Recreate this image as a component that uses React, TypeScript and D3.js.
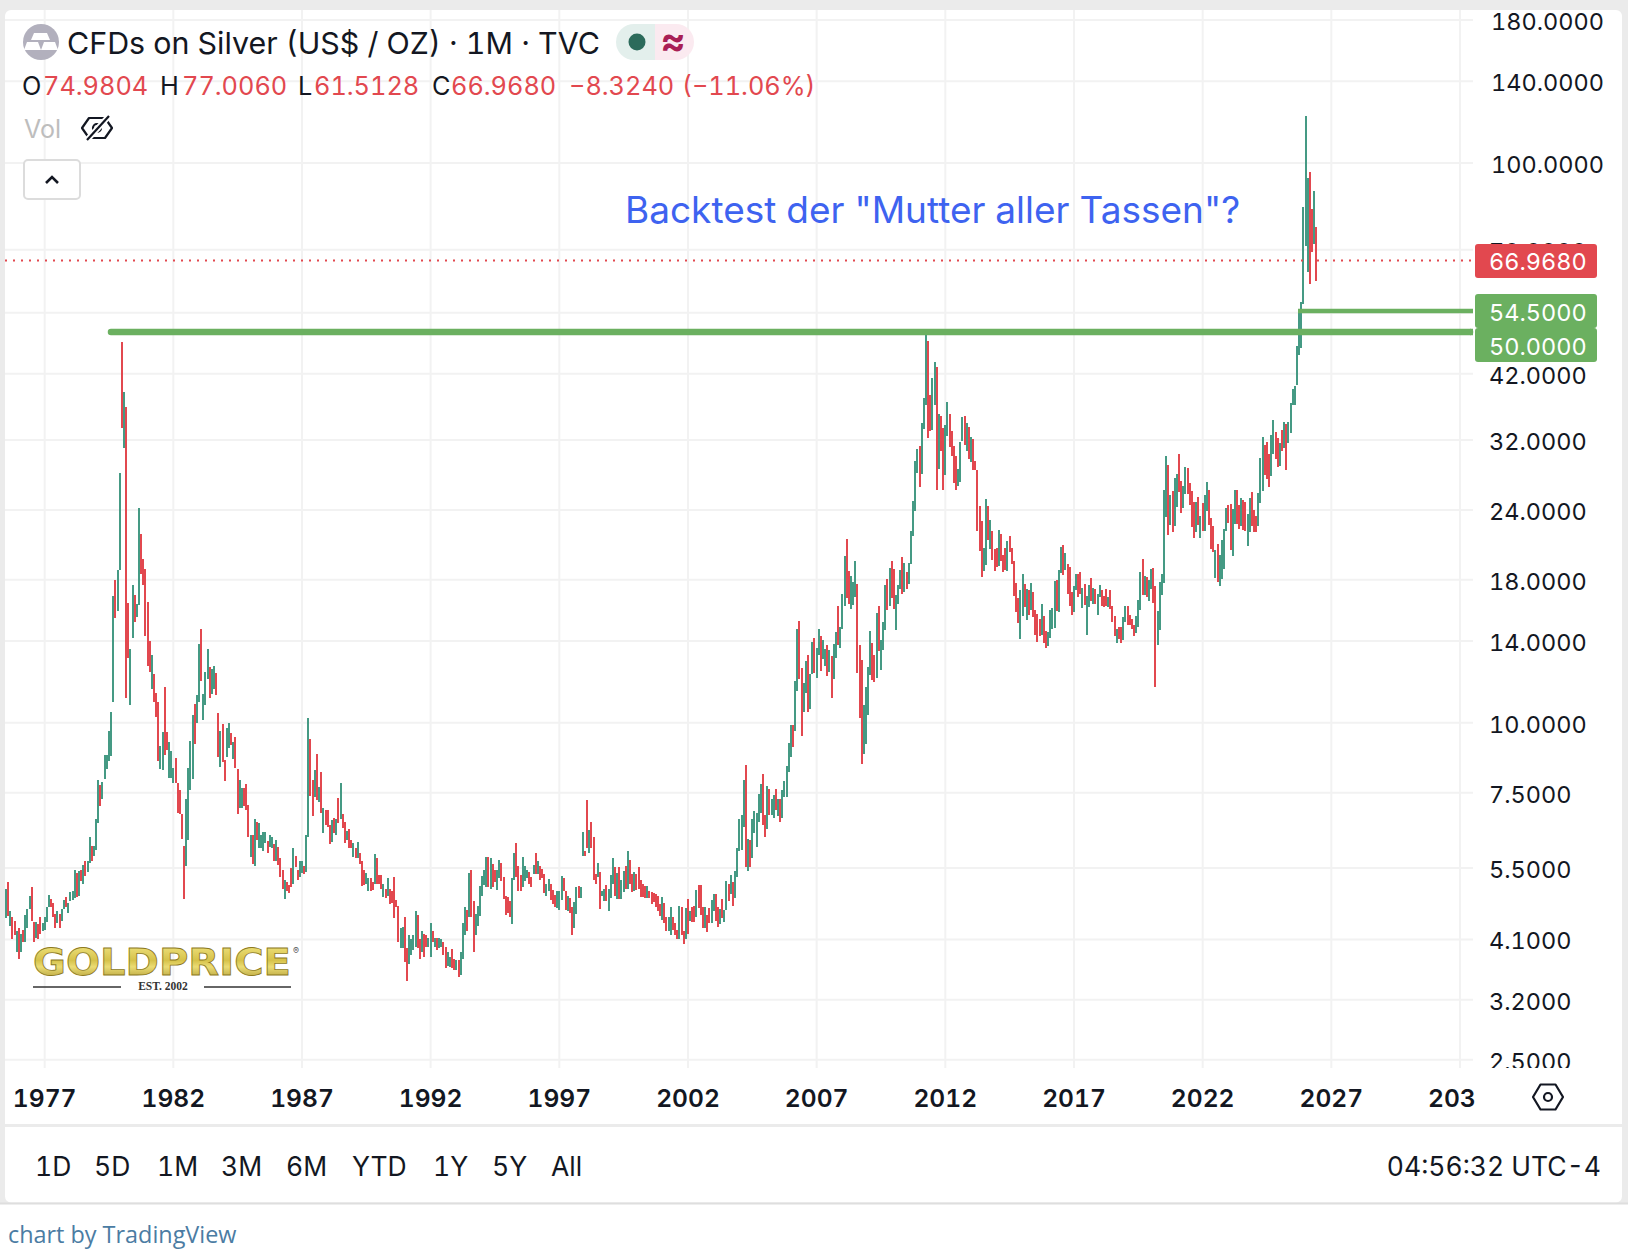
import * as d3 from 'd3';

const priceTicks = [180, 140, 100, 70, 42, 32, 24, 18, 14, 10, 7.5, 5.5, 4.1, 3.2, 2.5];
const gridOnlyPrices = [54];
const yearTicks = [1977, 1982, 1987, 1992, 1997, 2002, 2007, 2012, 2017, 2022, 2027, 2032];
const rangeButtons = ['1D', '5D', '1M', '3M', '6M', 'YTD', '1Y', '5Y', 'All'];
const rangeButtonX = [35, 94, 157, 221, 286, 352, 433, 492, 551];

const lastPrice = 66.968;
const resistanceUpper = 54.5;
const resistanceLower = 50;

// monthly bars, first one is 1975-07, one row per calendar year
const barHighs = [
  5.05, 5.19, 4.6, 4.49, 4.43, 4.25,
  4.3, 4.2, 4.27, 4.54, 4.64, 4.91, 5.08, 4.4, 4.4, 4.36, 4.5, 4.38,
  4.49, 4.69, 4.93, 4.85, 4.77, 4.56, 4.6, 4.56, 4.64, 4.83, 4.89, 4.77,
  4.99, 5.01, 5.45, 5.38, 5.43, 5.45, 5.58, 5.65, 5.65, 6.26, 6.03, 6.03,
  6.72, 7.89, 7.73, 7.83, 8.75, 8.75, 9.66, 10.46, 16.83, 18.0, 18.75, 27.95,
  47.9, 39.0, 36.6, 16.35, 13.55, 17.6, 16.9, 16.3, 24.2, 21.75, 19.6, 18.85,
  16.4, 14.0, 13.2, 12.2, 11.3, 10.87, 9.08, 9.62, 11.6, 9.62, 9.22, 8.89,
  8.29, 8.64, 7.8, 7.57, 6.86, 6.03, 7.3, 8.29, 9.26, 10.33, 10.82, 11.2,
  13.8, 14.7, 11.27, 12.3, 13.55, 12.55, 12.45, 12.65, 12.25, 10.42, 9.66, 9.93,
  8.57, 9.78, 10.0, 9.58, 9.22, 9.42, 8.25, 7.89, 7.63, 7.63, 7.76, 7.12,
  6.31, 6.31, 6.72, 6.64, 6.61, 6.31, 6.37, 6.37, 6.14, 6.31, 6.26, 6.06,
  6.16, 6.0, 5.74, 5.45, 5.23, 5.19, 5.12, 5.49, 5.96, 5.79, 5.45, 5.65,
  5.65, 5.54, 6.29, 10.18, 9.34, 7.89, 8.22, 8.79, 7.66, 8.15, 7.03, 6.97,
  6.97, 6.56, 6.69, 6.77, 6.72, 7.33, 7.8, 6.86, 6.64, 6.4, 6.45, 6.18,
  6.09, 5.96, 6.11, 5.84, 5.65, 5.45, 5.38, 5.27, 5.27, 5.19, 5.82, 5.72,
  5.34, 5.34, 5.14, 5.05, 5.27, 5.05, 5.01, 5.29, 4.83, 4.71, 4.3, 4.32,
  4.49, 3.95, 4.18, 4.11, 4.17, 4.6, 4.54, 4.11, 4.25, 4.2, 4.17, 4.13,
  4.38, 4.25, 4.13, 4.13, 4.13, 4.11, 4.05, 3.98, 3.89, 3.81, 3.94, 3.79,
  3.76, 3.76, 3.89, 4.38, 4.69, 4.62, 5.38, 5.45, 4.81, 4.56, 4.71, 5.1,
  5.32, 5.45, 5.76, 5.76, 5.72, 5.6, 5.45, 5.45, 5.69, 5.62, 5.29, 4.91,
  4.89, 4.81, 5.27, 5.84, 6.09, 5.54, 5.34, 5.76, 5.54, 5.45, 5.4, 5.29,
  5.58, 5.84, 5.67, 5.54, 5.47, 5.36, 5.16, 5.25, 5.14, 5.03, 4.93, 5.01,
  5.01, 5.32, 5.27, 5.01, 4.91, 4.87, 4.68, 4.79, 5.08, 5.1, 5.08, 6.37,
  5.89, 7.27, 6.42, 6.64, 6.24, 5.36, 5.62, 5.4, 5.01, 5.05, 5.12, 5.05,
  5.34, 5.74, 5.52, 5.38, 5.52, 5.23, 5.43, 5.54, 5.91, 5.69, 5.36, 5.4,
  5.36, 5.52, 5.23, 5.16, 5.1, 5.1, 5.01, 4.99, 4.97, 4.95, 4.91, 4.75,
  4.89, 4.77, 4.5, 4.5, 4.68, 4.5, 4.38, 4.27, 4.71, 4.68, 4.25, 4.66,
  4.85, 4.6, 4.69, 4.71, 5.03, 5.12, 5.12, 4.69, 4.68, 4.54, 4.66, 4.83,
  4.95, 4.95, 4.68, 4.64, 4.85, 4.62, 5.21, 5.14, 5.34, 5.19, 5.43, 5.96,
  6.72, 6.83, 7.89, 8.39, 6.21, 6.16, 6.72, 6.94, 6.89, 7.45, 7.76, 8.11,
  6.83, 7.7, 7.6, 7.3, 7.42, 7.6, 7.3, 7.3, 7.57, 7.86, 8.36, 9.19,
  9.9, 9.9, 11.85, 14.7, 15.2, 12.5, 11.76, 12.9, 13.2, 12.2, 13.95, 14.17,
  13.6, 14.7, 14.3, 14.05, 13.55, 13.75, 13.5, 13.15, 13.8, 14.5, 16.15, 14.85,
  17.0, 19.85, 21.3, 18.65, 18.3, 17.85, 19.45, 17.7, 13.75, 12.95, 10.77, 11.6,
  12.6, 14.6, 13.9, 13.2, 15.7, 16.15, 14.05, 15.15, 17.6, 18.05, 18.9, 19.45,
  18.8, 16.9, 17.6, 18.75, 19.75, 19.3, 18.6, 19.3, 22.0, 24.9, 29.35, 30.85,
  31.25, 34.3, 38.05, 49.7, 48.1, 38.5, 41.25, 44.1, 43.2, 35.55, 35.3, 33.6,
  34.0, 37.4, 35.55, 33.2, 31.25, 29.9, 28.4, 31.7, 35.15, 35.3, 34.3, 33.75,
  32.4, 32.15, 29.35, 28.3, 24.4, 22.9, 20.5, 25.1, 24.4, 23.0, 22.0, 20.4,
  20.5, 22.1, 21.75, 19.95, 20.5, 21.1, 21.55, 20.5, 19.45, 17.75, 16.7, 17.25,
  18.45, 17.7, 17.3, 17.25, 17.75, 17.1, 15.9, 15.65, 15.35, 16.3, 15.5, 14.6,
  14.5, 15.9, 16.05, 17.9, 18.0, 18.75, 20.6, 20.75, 20.1, 19.25, 18.95, 17.15,
  17.55, 18.45, 18.45, 18.6, 17.4, 17.7, 16.85, 17.6, 18.15, 17.4, 17.3, 17.0,
  17.6, 17.25, 16.85, 17.3, 16.75, 17.25, 16.15, 15.5, 14.7, 14.85, 14.85, 15.45,
  16.15, 16.15, 15.55, 15.3, 14.95, 15.5, 16.6, 18.6, 19.6, 18.3, 18.2, 18.0,
  18.8, 18.9, 17.55, 15.85, 17.85, 18.4, 26.1, 29.9, 28.9, 25.5, 25.9, 27.35,
  27.85, 30.15, 27.0, 26.5, 28.65, 28.5, 26.8, 25.9, 24.8, 24.8, 25.3, 23.4,
  24.7, 25.5, 26.9, 26.1, 23.2, 22.45, 20.35, 20.85, 19.95, 21.2, 22.2, 24.2,
  24.5, 24.6, 24.1, 26.0, 26.0, 24.5, 25.2, 25.0, 24.8, 23.6, 25.2, 25.8,
  24.0, 23.4, 25.7, 29.75, 32.4, 31.4, 31.7, 30.15, 32.65, 34.7, 33.05, 32.25,
  31.55, 33.3, 34.45, 34.15, 34.45, 37.25, 39.45, 39.9, 47.15, 54.4, 56.5, 83.5,
  121.5, 94.0, 96.4, 82.7, 89.0, 77.006,
];

const barLows = [
  4.47, 4.52, 4.34, 4.11, 4.17, 3.89,
  3.79, 3.9, 4.05, 4.05, 4.3, 4.64, 4.43, 4.05, 4.13, 4.11, 4.2, 4.25,
  4.27, 4.41, 4.68, 4.68, 4.49, 4.3, 4.38, 4.3, 4.43, 4.64, 4.68, 4.58,
  4.81, 4.83, 4.87, 4.89, 4.91, 5.21, 5.14, 5.32, 5.4, 5.62, 5.65, 5.79,
  5.93, 6.61, 7.09, 7.3, 7.92, 8.25, 8.54, 8.71, 10.87, 15.38, 15.84, 18.75,
  33.6, 30.95, 11.09, 13.05, 10.77, 14.17, 15.13, 15.45, 16.2, 18.45, 17.6, 14.3,
  12.65, 12.3, 11.5, 10.9, 10.25, 8.54, 8.25, 8.22, 8.75, 8.93, 7.95, 7.95,
  7.8, 7.8, 6.89, 6.86, 6.21, 4.85, 5.54, 6.18, 7.57, 7.92, 9.15, 10.0,
  10.87, 11.85, 10.1, 10.75, 11.95, 11.09, 11.27, 11.5, 11.2, 8.68, 8.33, 8.5,
  7.86, 8.68, 9.0, 9.12, 8.6, 8.29, 6.86, 7.03, 7.03, 7.09, 6.97, 6.24,
  5.76, 5.6, 5.54, 6.16, 5.98, 5.98, 5.89, 6.09, 5.86, 6.0, 5.98, 5.67,
  5.67, 5.56, 5.29, 5.05, 4.85, 5.01, 4.97, 5.08, 5.16, 5.52, 5.23, 5.29,
  5.38, 5.36, 5.4, 6.24, 7.4, 6.8, 7.37, 7.27, 7.21, 6.89, 6.34, 6.56,
  6.51, 6.06, 6.11, 6.34, 6.31, 6.61, 6.72, 6.48, 6.09, 6.18, 5.98, 5.96,
  5.76, 5.74, 5.74, 5.6, 5.1, 5.12, 5.14, 5.01, 5.01, 5.03, 5.14, 5.14,
  5.14, 5.05, 4.89, 4.87, 4.91, 4.75, 4.77, 4.47, 4.69, 4.05, 3.95, 3.95,
  3.73, 3.45, 3.7, 3.84, 3.92, 3.97, 3.95, 3.79, 3.89, 3.81, 3.97, 3.97,
  3.82, 4.05, 3.97, 3.92, 3.95, 3.97, 3.84, 3.64, 3.67, 3.66, 3.64, 3.62,
  3.62, 3.52, 3.54, 3.79, 4.17, 4.25, 4.49, 4.49, 3.89, 4.17, 4.34, 4.52,
  4.91, 5.12, 5.08, 5.08, 5.05, 5.08, 5.19, 5.03, 5.27, 5.21, 4.85, 4.54,
  4.58, 4.49, 4.36, 5.23, 5.29, 5.01, 5.01, 5.08, 5.21, 5.27, 5.16, 5.08,
  5.36, 5.36, 5.36, 5.23, 5.27, 4.97, 4.91, 5.01, 4.83, 4.75, 4.69, 4.66,
  4.62, 4.83, 5.01, 4.62, 4.6, 4.58, 4.17, 4.3, 4.56, 4.87, 4.87, 5.79,
  5.79, 5.96, 5.86, 5.96, 5.23, 5.16, 5.29, 4.64, 4.91, 4.81, 4.81, 4.6,
  4.87, 5.16, 4.91, 4.85, 4.85, 4.85, 4.99, 5.05, 5.05, 5.16, 4.99, 5.01,
  5.03, 5.05, 4.89, 4.89, 4.87, 4.87, 4.87, 4.75, 4.79, 4.68, 4.6, 4.52,
  4.45, 4.38, 4.25, 4.25, 4.17, 4.27, 4.18, 4.11, 4.11, 4.18, 4.03, 4.11,
  4.2, 4.43, 4.41, 4.4, 4.49, 4.66, 4.54, 4.3, 4.3, 4.23, 4.38, 4.38,
  4.6, 4.43, 4.32, 4.36, 4.47, 4.41, 4.62, 4.81, 4.95, 4.71, 4.87, 5.29,
  5.91, 5.93, 6.51, 5.52, 5.43, 5.52, 5.74, 6.34, 6.0, 6.64, 6.89, 6.56,
  6.24, 6.45, 6.83, 6.83, 6.77, 6.97, 6.8, 6.64, 6.75, 7.37, 7.37, 8.15,
  8.68, 9.04, 9.66, 11.4, 11.95, 9.45, 10.46, 11.3, 10.46, 10.6, 12.2, 12.25,
  12.0, 13.2, 12.35, 13.0, 12.65, 12.1, 12.3, 11.09, 11.95, 13.05, 13.75, 13.6,
  14.7, 16.15, 16.7, 16.3, 15.95, 16.25, 16.75, 12.25, 10.2, 8.43, 8.79, 9.15,
  10.33, 12.15, 11.9, 11.8, 12.0, 13.45, 12.4, 13.5, 14.65, 15.9, 16.15, 16.7,
  15.95, 14.65, 16.3, 17.35, 17.0, 17.15, 17.35, 17.7, 19.2, 21.55, 23.9, 27.95,
  26.35, 27.85, 33.45, 36.95, 32.25, 33.15, 33.3, 36.95, 26.0, 28.4, 30.6, 26.1,
  27.7, 32.5, 31.1, 30.0, 26.8, 26.0, 26.45, 26.9, 31.85, 31.4, 30.6, 29.6,
  29.25, 28.3, 28.3, 22.0, 20.25, 18.2, 18.65, 19.15, 21.2, 20.4, 19.5, 18.65,
  18.95, 19.05, 19.45, 18.6, 18.75, 18.65, 20.2, 19.25, 16.85, 15.75, 15.05, 14.1,
  15.5, 16.1, 15.25, 15.55, 15.9, 15.45, 14.35, 13.95, 14.3, 14.35, 13.9, 13.6,
  13.7, 14.15, 14.7, 14.75, 15.85, 15.75, 18.5, 18.35, 18.75, 17.0, 16.15, 15.55,
  15.75, 17.25, 16.75, 17.0, 16.0, 16.25, 14.35, 16.1, 16.5, 16.3, 16.3, 15.55,
  16.75, 16.15, 16.1, 16.15, 16.1, 15.95, 15.15, 14.3, 13.9, 14.1, 13.9, 14.05,
  15.15, 14.95, 14.95, 14.7, 14.3, 14.45, 14.85, 15.9, 16.9, 16.9, 16.75, 16.5,
  17.3, 16.35, 11.6, 13.75, 14.65, 16.9, 17.75, 23.3, 21.65, 22.55, 21.9, 22.45,
  24.3, 25.8, 23.7, 24.2, 25.6, 25.6, 24.5, 22.35, 21.4, 21.95, 22.55, 21.4,
  22.0, 22.0, 23.9, 22.55, 20.4, 20.2, 18.15, 17.85, 17.55, 18.05, 18.8, 22.0,
  22.75, 20.35, 19.85, 22.65, 22.65, 22.2, 22.45, 22.1, 22.0, 20.65, 21.9, 22.45,
  21.95, 21.95, 22.45, 24.7, 25.9, 27.7, 27.2, 26.35, 27.6, 30.15, 29.6, 28.65,
  28.8, 30.6, 31.0, 28.3, 31.55, 32.9, 36.95, 36.95, 40.1, 45.4, 46.7, 56.0,
  71.0, 63.9, 60.8, 69.3, 71.7, 61.5128,
];

const barDirs = [
  'UDUDDU',
  'DUDUUUDDUDDU',
  'UUUDDDUDUUDU',
  'UUUDUDUDUUDU',
  'UUDUUUUUUDUU',
  'DUDDUUDUUDDD',
  'DDUDDDUUDDUU',
  'UDDDDDUUUUDU',
  'UDUUUDUUDDUD',
  'DUUDUDDUUDDD',
  'UDUDUUUUDUUD',
  'UDDDUDDDUDDU',
  'UDUUDDUDUDUD',
  'DDUDUDUDDUDD',
  'UDUDDDUUDDUD',
  'DDUDUDDDDDUU',
  'DDUUUUDDUDDU',
  'UDUDUUDDUUDD',
  'UDUUUDUDDUUU',
  'UUUDUDDUUDDD',
  'DDUUDDDUUUDD',
  'UDUDDDUUDDDU',
  'UUDDUDDUUDUU',
  'DDUDDDUDUUDU',
  'UUDUDUUDUDDU',
  'DDDDDUDDDDDD',
  'UDDUUDDDUDDU',
  'DUDDUDDDUDDU',
  'UDDUDUUDUDUU',
  'UUUDUDUUUUUD',
  'DUDUUDUDUUUU',
  'UDUUDDUUDUUD',
  'UUDUUDUDUUDU',
  'UUDDUUUDDDUU',
  'UUDDUDUUUDUD',
  'DUUUDUDUUUUU',
  'DUUUDDUUDUDD',
  'UUDDDDUUUDUD',
  'UDDDDDUUDUDD',
  'DUDDDUDDDDDU',
  'UDUDUDDDDUDD',
  'UUUUDUUDUDDD',
  'UUDDUDUUDUDU',
  'UDDDUDDDUDDU',
  'UDDDDUUUDUDU',
  'UDDUUUUUDUDU',
  'UDDUUDDDDUDU',
  'DUUDDDUDUUUU',
  'DDUUDDUDDUUD',
  'DDUUUDDDUUDD',
  'UDUDUUUUUUUU',
  'UUDDUD',
].join('');

const firstBarMonth = new Date(Date.UTC(1975, 6, 1));

const WIDTH = 1628;
const HEIGHT = 1260;
const GREEN = '#459a84';
const RED = '#e2484f';
const LEVEL_GREEN = '#6bb060';
const INK = '#131722';
const UI_FONT = 'Inter, Roboto, sans-serif';

const x = d3.scaleUtc()
  .domain([new Date(Date.UTC(1977, 0, 1)), new Date(Date.UTC(2027, 0, 1))])
  .range([44.7, 1331.3]);

const y = d3.scaleLog().domain([100, 10]).range([163, 722.7]);

const yearX = (year: number) => x(new Date(Date.UTC(year, 0, 1)));

const bars = barHighs.map((high, i) => ({
  date: d3.utcMonth.offset(firstBarMonth, i),
  high,
  low: barLows[i],
  up: barDirs[i] === 'U',
}));

const legendItems = [
  { label: 'O', value: '74.9804', labelX: 22, valueX: 43 },
  { label: 'H', value: '77.0060', labelX: 160, valueX: 182 },
  { label: 'L', value: '61.5128', labelX: 298, valueX: 314 },
  { label: 'C', value: '66.9680', labelX: 432, valueX: 451 },
];

const App = () => (
  <svg
    width={WIDTH}
    height={HEIGHT}
    style={{
      position: 'absolute',
      left: 0,
      top: 0,
      display: 'block',
      fontFamily: UI_FONT,
      fontVariantNumeric: 'tabular-nums',
    }}
  >
    <defs>
      <clipPath id="plot">
        <rect x={5} y={10} width={1468} height={1058} />
      </clipPath>
      <linearGradient id="gold" x1="0" y1="0" x2="0" y2="1">
        <stop offset="0" stopColor="#f4e98a" />
        <stop offset="0.45" stopColor="#d6c24a" />
        <stop offset="0.6" stopColor="#ebdc74" />
        <stop offset="1" stopColor="#a08a24" />
      </linearGradient>
    </defs>

    {/* page and panel */}
    <rect width={WIDTH} height={HEIGHT} fill="#fff" />
    <rect width={WIDTH} height={1203} fill="#ebebeb" />
    <rect x={5} y={10} width={1617} height={1192.5} rx={6} fill="#fff" />
    <rect x={0} y={1202.5} width={WIDTH} height={2} fill="#dedede" />
    <rect x={5} y={1124} width={1617} height={3} fill="#ebebeb" />

    {/* grid */}
    <g stroke="#f2f2f2" strokeWidth={2}>
      {yearTicks.map(yr => (
        <line key={yr} x1={yearX(yr)} x2={yearX(yr)} y1={10} y2={1068} />
      ))}
      {[...priceTicks, ...gridOnlyPrices].map(p => (
        <line key={p} x1={5} x2={1473} y1={y(p)} y2={y(p)} />
      ))}
    </g>

    {/* monthly bars */}
    <g clipPath="url(#plot)" shapeRendering="crispEdges">
      {bars.map((d, i) => (
        <rect
          key={i}
          x={Math.round(x(d.date)) - 1}
          width={2}
          y={y(d.high)}
          height={y(d.low) - y(d.high)}
          fill={d.up ? GREEN : RED}
        />
      ))}
    </g>

    {/* last price line */}
    <line
      x1={5}
      x2={1473}
      y1={y(lastPrice)}
      y2={y(lastPrice)}
      stroke={RED}
      strokeWidth={2}
      strokeDasharray="2 6"
    />

    {/* drawn levels */}
    <line x1={111} x2={1470} y1={y(resistanceLower) + 0.5} y2={y(resistanceLower) + 0.5} stroke={LEVEL_GREEN} strokeWidth={6.5} strokeLinecap="round" />
    <line x1={1473} x2={1470} y1={y(resistanceLower) + 0.5} y2={y(resistanceLower) + 0.5} stroke={LEVEL_GREEN} strokeWidth={6.5} />
    <line x1={1298} x2={1473} y1={y(resistanceUpper) + 0.5} y2={y(resistanceUpper) + 0.5} stroke={LEVEL_GREEN} strokeWidth={4.5} />

    <text x={625} y={223} fontSize={37} fill="#3e63f0">Backtest der "Mutter aller Tassen"?</text>

    {/* price axis */}
    <g fontSize={23.5} fill={INK}>
      {priceTicks.map(p => (
        <text key={p} x={p >= 100 ? 1491 : 1489} y={y(p) + 10}>{p.toFixed(4)}</text>
      ))}
    </g>
    <rect x={1475} y={1068} width={147} height={12} fill="#fff" />

    <rect x={1475} y={244} width={122} height={34} rx={3} fill={RED} />
    <text x={1489} y={270} fontSize={23.5} fill="#fff">66.9680</text>
    <rect x={1475} y={294} width={122} height={34} rx={3} fill={LEVEL_GREEN} />
    <text x={1489} y={321} fontSize={23.5} fill="#fff">54.5000</text>
    <rect x={1475} y={328} width={122} height={34} rx={3} fill={LEVEL_GREEN} />
    <text x={1489} y={355} fontSize={23.5} fill="#fff">50.0000</text>

    {/* time axis */}
    <g fontSize={24.6} fontWeight={600} fill={INK} textAnchor="middle">
      {yearTicks.slice(0, -1).map(yr => (
        <text key={yr} x={yearX(yr)} y={1107}>{yr}</text>
      ))}
    </g>
    <text x={1428} y={1107} fontSize={24.6} fontWeight={600} fill={INK}>203</text>
    <g transform="translate(1548,1097)" fill="none" stroke={INK} strokeWidth={2.2}>
      <path d="M-15 0 L-7.5 -12.5 L7.5 -12.5 L15 0 L7.5 12.5 L-7.5 12.5 Z" strokeLinejoin="round" />
      <circle r={4} />
    </g>

    {/* header */}
    <circle cx={41} cy={42} r={18} fill="#b2b0bd" />
    <path d="M34 33 h13 l3 7 h-19 Z M24 50 l3 -8 h11 l3 8 Z M41 50 l3 -8 h11 l3 8 Z" fill="#fff" />
    <text x={67} y={54} fontSize={30.4} fill={INK}>CFDs on Silver (US$ / OZ) · 1M · TVC</text>
    <path d="M655 24 h-21 a18 18 0 0 0 0 36 h21 Z" fill="#e3efec" />
    <path d="M655 24 h21 a18 18 0 0 1 0 36 h-21 Z" fill="#fbeaf0" />
    <circle cx={637} cy={42} r={8.5} fill="#2c6b5b" />
    <text x={673} y={54} fontSize={38} fontWeight={700} fill="#a91e55" textAnchor="middle">≈</text>

    <g fontSize={25.3}>
      {legendItems.map(d => (
        <g key={d.label}>
          <text x={d.labelX} y={95} fill={INK}>{d.label}</text>
          <text x={d.valueX} y={95} fill={RED}>{d.value}</text>
        </g>
      ))}
      <text x={569} y={95} fill={RED}>−8.3240</text>
      <text x={682} y={95} fill={RED}>(−11.06%)</text>
    </g>

    <text x={24} y={138} fontSize={25} fill="#bdbdbd">Vol</text>
    <g transform="translate(97,128)" fill="none" stroke={INK} strokeWidth={2.2} strokeLinejoin="round">
      <path d="M-15 0 L-8 -10 L8 -10 L15 0 L8 10 L-8 10 Z" />
      <circle r={4} />
      <path d="M-10 12 L12 -12" stroke="#fff" strokeWidth={6} />
      <path d="M-10 12 L12 -12" />
    </g>

    <rect x={24} y={160} width={56} height={39} rx={4} fill="#fff" stroke="#dcdcdc" strokeWidth={2} />
    <path d="M46 183 L52 177 L58 183" fill="none" stroke={INK} strokeWidth={2.6} />

    {/* logo */}
    <text
      x={33}
      y={975}
      fontFamily="'DejaVu Sans', sans-serif"
      fontWeight={700}
      fontSize={37}
      textLength={258}
      lengthAdjust="spacingAndGlyphs"
      fill="url(#gold)"
      stroke="#8d7a1e"
      strokeWidth={0.8}
    >
      GOLDPRICE
    </text>
    <text x={296} y={954} fontSize={9} fill="#555" textAnchor="middle">®</text>
    <line x1={33} x2={121} y1={987} y2={987} stroke="#333" strokeWidth={1.6} />
    <line x1={204} x2={291} y1={987} y2={987} stroke="#333" strokeWidth={1.6} />
    <text x={163} y={990} fontFamily="'Liberation Serif', serif" fontWeight={700} fontSize={11.5} fill="#333" textAnchor="middle">EST. 2002</text>

    {/* range bar */}
    <g fontSize={26.5} fill={INK}>
      {rangeButtons.map((label, i) => (
        <text key={label} x={rangeButtonX[i]} y={1176}>{label}</text>
      ))}
    </g>
    <text x={1601} y={1176} fontSize={26.5} fill={INK} textAnchor="end">04:56:32 UTC-4</text>

    <text x={8} y={1243} fontFamily="'Open Sans', sans-serif" fontSize={23.4} fill="#4b7ca3">chart by TradingView</text>
  </svg>
);

export default App;
